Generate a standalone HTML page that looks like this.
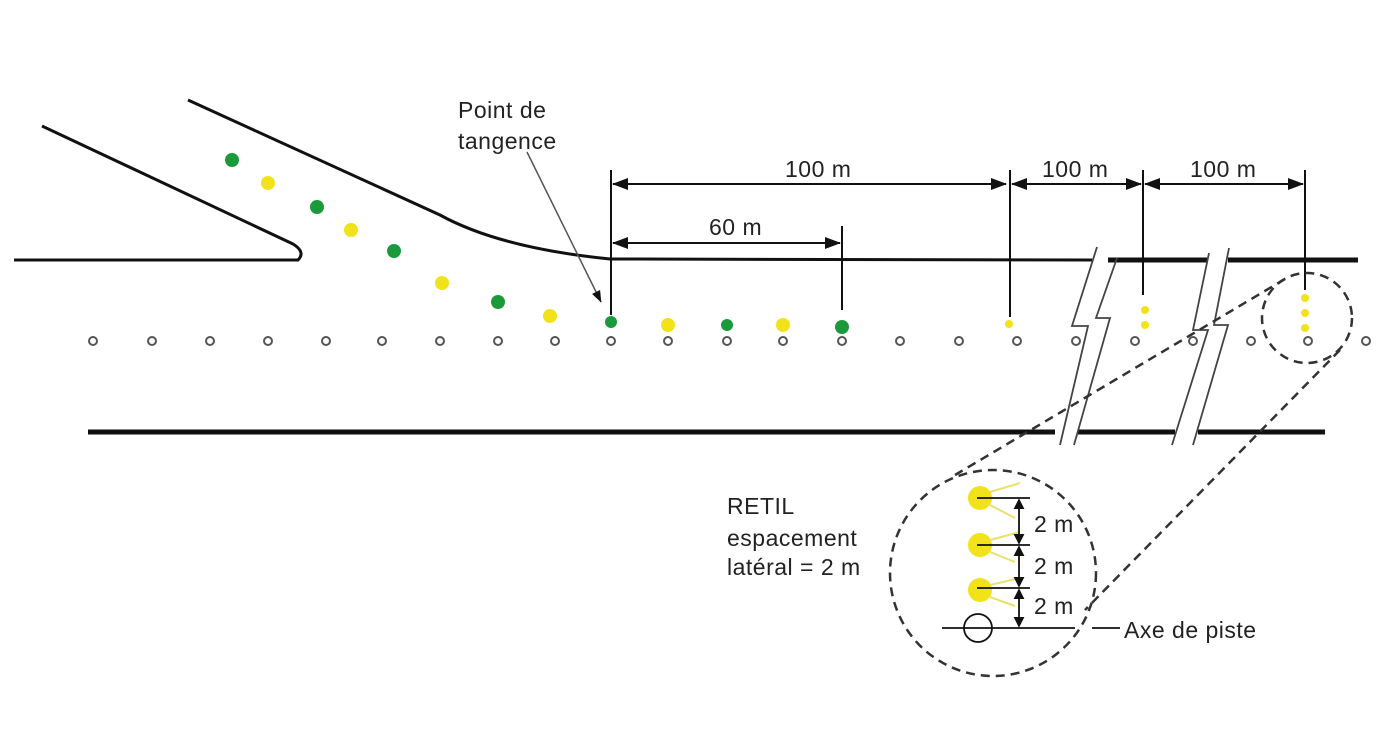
<!DOCTYPE html>
<html><head><style>body{margin:0;background:#fff}svg{display:block}text{font-family:"Liberation Sans",sans-serif;fill:#222}</style></head><body>
<svg width="1391" height="731" viewBox="0 0 1391 731" xmlns="http://www.w3.org/2000/svg">
<defs><marker id="a" markerWidth="8" markerHeight="8" refX="7.5" refY="4" orient="auto-start-reverse" markerUnits="strokeWidth"><path d="M0,1 L8,4 L0,7 z" fill="#111"/></marker>
<marker id="s" markerWidth="6" markerHeight="6" refX="5" refY="3" orient="auto-start-reverse"><path d="M0,0 L6,3 L0,6 z" fill="#111"/></marker></defs>
<g stroke="#111" fill="none" stroke-width="3">
<path d="M42,126 L293,244 Q306,252 298,260 L14,260"/>
<path d="M188,100 L440,215 Q500,248 610,259 L1092,260"/>
</g>
<g stroke="#111" stroke-width="5">
<line x1="1108" y1="260" x2="1208" y2="260"/><line x1="1228" y1="260" x2="1358" y2="260"/>
<line x1="88" y1="432" x2="1055" y2="432"/><line x1="1078" y1="432" x2="1175" y2="432"/><line x1="1198" y1="432" x2="1325" y2="432"/>
</g>
<g stroke="#444" fill="none" stroke-width="1.8">
<path d="M1097,247 L1072,326 L1088,326 L1060,445"/><path d="M1117,258 L1096,318 L1110,318 L1074,445"/>
<path d="M1209,253 L1193,330 L1208,330 L1172,445"/><path d="M1229,248 L1214,325 L1228,325 L1193,445"/>
</g>
<g fill="#fff" stroke="#555" stroke-width="2">
<circle cx="93" cy="341" r="4"/><circle cx="152" cy="341" r="4"/><circle cx="210" cy="341" r="4"/><circle cx="268" cy="341" r="4"/><circle cx="326" cy="341" r="4"/><circle cx="382" cy="341" r="4"/><circle cx="440" cy="341" r="4"/><circle cx="498" cy="341" r="4"/><circle cx="555" cy="341" r="4"/><circle cx="611" cy="341" r="4"/><circle cx="668" cy="341" r="4"/><circle cx="727" cy="341" r="4"/><circle cx="783" cy="341" r="4"/><circle cx="842" cy="341" r="4"/><circle cx="900" cy="341" r="4"/><circle cx="959" cy="341" r="4"/><circle cx="1017" cy="341" r="4"/><circle cx="1076" cy="341" r="4"/><circle cx="1135" cy="341" r="4"/><circle cx="1193" cy="341" r="4"/><circle cx="1251" cy="341" r="4"/><circle cx="1308" cy="341" r="4"/><circle cx="1366" cy="341" r="4"/>
</g>
<g fill="#1a9a3a"><circle cx="232" cy="160" r="7"/><circle cx="317" cy="207" r="7"/><circle cx="394" cy="251" r="7"/><circle cx="498" cy="302" r="7"/><circle cx="611" cy="322" r="6"/><circle cx="727" cy="325" r="6"/><circle cx="842" cy="327" r="7"/></g>
<g fill="#f2e21a"><circle cx="268" cy="183" r="7"/><circle cx="351" cy="230" r="7"/><circle cx="442" cy="283" r="7"/><circle cx="550" cy="316" r="7"/><circle cx="668" cy="325" r="7"/><circle cx="783" cy="325" r="7"/>
<circle cx="1009" cy="324" r="4"/><circle cx="1145" cy="310" r="4"/><circle cx="1145" cy="325" r="4"/><circle cx="1305" cy="298" r="4"/><circle cx="1305" cy="313" r="4"/><circle cx="1305" cy="328" r="4"/></g>
<g stroke="#111" stroke-width="2">
<line x1="611" y1="170" x2="611" y2="315"/><line x1="842" y1="226" x2="842" y2="310"/><line x1="1010" y1="170" x2="1010" y2="317"/><line x1="1143" y1="170" x2="1143" y2="295"/><line x1="1305" y1="170" x2="1305" y2="290"/>
<line x1="613" y1="184" x2="1006" y2="184" marker-start="url(#a)" marker-end="url(#a)"/>
<line x1="1012" y1="184" x2="1141" y2="184" marker-start="url(#a)" marker-end="url(#a)"/>
<line x1="1145" y1="184" x2="1303" y2="184" marker-start="url(#a)" marker-end="url(#a)"/>
<line x1="613" y1="243" x2="840" y2="243" marker-start="url(#a)" marker-end="url(#a)"/>
<line x1="527" y1="152" x2="601" y2="302" stroke="#555" stroke-width="1.5" marker-end="url(#a)"/>
</g>
<g stroke="#333" stroke-width="2.5" fill="none" stroke-dasharray="9,6">
<circle cx="1307" cy="318" r="45"/><circle cx="993" cy="573" r="103"/>
<line x1="1285" y1="279" x2="955" y2="475"/><line x1="1340" y1="350" x2="1085" y2="610"/>
</g>
<g fill="#f2e21a"><circle cx="980" cy="498" r="12"/><circle cx="980" cy="545" r="12"/><circle cx="980" cy="590" r="12"/></g>
<g stroke="#e8e070" stroke-width="2"><line x1="990" y1="492" x2="1020" y2="483"/><line x1="990" y1="505" x2="1015" y2="518"/><line x1="990" y1="540" x2="1020" y2="532"/><line x1="990" y1="552" x2="1015" y2="562"/><line x1="990" y1="585" x2="1020" y2="578"/><line x1="990" y1="597" x2="1015" y2="606"/></g>
<g stroke="#111" stroke-width="1.8" fill="none">
<line x1="977" y1="498" x2="1030" y2="498"/><line x1="977" y1="545" x2="1030" y2="545"/><line x1="977" y1="588" x2="1030" y2="588"/>
<line x1="942" y1="628" x2="1075" y2="628"/><line x1="1092" y1="628" x2="1120" y2="628"/>
<circle cx="978" cy="628" r="14"/>
<line x1="1019" y1="500" x2="1019" y2="543" marker-start="url(#s)" marker-end="url(#s)"/>
<line x1="1019" y1="547" x2="1019" y2="586" marker-start="url(#s)" marker-end="url(#s)"/>
<line x1="1019" y1="590" x2="1019" y2="626" marker-start="url(#s)" marker-end="url(#s)"/>
</g>
<g font-size="23" letter-spacing="0.5">
<text x="458" y="118">Point de</text><text x="458" y="149">tangence</text>
<text x="785" y="177">100 m</text><text x="1042" y="177">100 m</text><text x="1190" y="177">100 m</text><text x="709" y="235">60 m</text>
<text x="727" y="514">RETIL</text><text x="727" y="546">espacement</text><text x="727" y="575">latéral = 2 m</text>
<text x="1034" y="532">2 m</text><text x="1034" y="574">2 m</text><text x="1034" y="614">2 m</text>
<text x="1124" y="638">Axe de piste</text>
</g>
</svg>
</body></html>
